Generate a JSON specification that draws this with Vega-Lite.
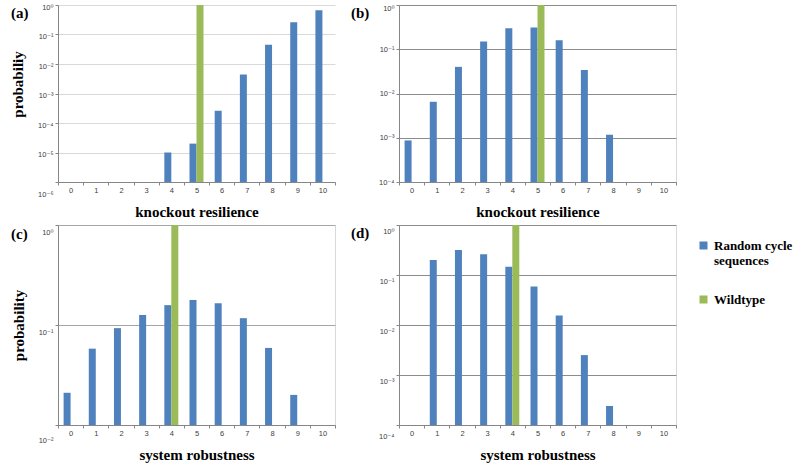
{
  "$schema": "https://vega.github.io/schema/vega-lite/v6.json",
  "padding": {"left": 10, "top": 3, "right": 0, "bottom": 0},
  "background": "white",
  "data": {"values": [
    {"panel": "a", "k": 4, "series": "Random cycle sequences", "p": 0.00001},
    {"panel": "a", "k": 5, "series": "Random cycle sequences", "p": 0.00002},
    {"panel": "a", "k": 6, "series": "Random cycle sequences", "p": 0.00026},
    {"panel": "a", "k": 7, "series": "Random cycle sequences", "p": 0.0044},
    {"panel": "a", "k": 8, "series": "Random cycle sequences", "p": 0.045},
    {"panel": "a", "k": 9, "series": "Random cycle sequences", "p": 0.26},
    {"panel": "a", "k": 10, "series": "Random cycle sequences", "p": 0.67},
    {"panel": "a", "k": 5, "series": "Wildtype", "p": 1},
    {"panel": "b", "k": 0, "series": "Random cycle sequences", "p": 0.00087},
    {"panel": "b", "k": 1, "series": "Random cycle sequences", "p": 0.0065},
    {"panel": "b", "k": 2, "series": "Random cycle sequences", "p": 0.04},
    {"panel": "b", "k": 3, "series": "Random cycle sequences", "p": 0.15},
    {"panel": "b", "k": 4, "series": "Random cycle sequences", "p": 0.3},
    {"panel": "b", "k": 5, "series": "Random cycle sequences", "p": 0.31},
    {"panel": "b", "k": 6, "series": "Random cycle sequences", "p": 0.16},
    {"panel": "b", "k": 7, "series": "Random cycle sequences", "p": 0.034},
    {"panel": "b", "k": 8, "series": "Random cycle sequences", "p": 0.00117},
    {"panel": "b", "k": 5, "series": "Wildtype", "p": 1},
    {"panel": "c", "k": 0, "series": "Random cycle sequences", "p": 0.021},
    {"panel": "c", "k": 1, "series": "Random cycle sequences", "p": 0.058},
    {"panel": "c", "k": 2, "series": "Random cycle sequences", "p": 0.093},
    {"panel": "c", "k": 3, "series": "Random cycle sequences", "p": 0.126},
    {"panel": "c", "k": 4, "series": "Random cycle sequences", "p": 0.158},
    {"panel": "c", "k": 5, "series": "Random cycle sequences", "p": 0.178},
    {"panel": "c", "k": 6, "series": "Random cycle sequences", "p": 0.165},
    {"panel": "c", "k": 7, "series": "Random cycle sequences", "p": 0.117},
    {"panel": "c", "k": 8, "series": "Random cycle sequences", "p": 0.059},
    {"panel": "c", "k": 9, "series": "Random cycle sequences", "p": 0.02},
    {"panel": "c", "k": 4, "series": "Wildtype", "p": 1},
    {"panel": "d", "k": 1, "series": "Random cycle sequences", "p": 0.2},
    {"panel": "d", "k": 2, "series": "Random cycle sequences", "p": 0.316},
    {"panel": "d", "k": 3, "series": "Random cycle sequences", "p": 0.26},
    {"panel": "d", "k": 4, "series": "Random cycle sequences", "p": 0.147},
    {"panel": "d", "k": 5, "series": "Random cycle sequences", "p": 0.059},
    {"panel": "d", "k": 6, "series": "Random cycle sequences", "p": 0.0155},
    {"panel": "d", "k": 7, "series": "Random cycle sequences", "p": 0.0025},
    {"panel": "d", "k": 8, "series": "Random cycle sequences", "p": 0.00024},
    {"panel": "d", "k": 4, "series": "Wildtype", "p": 1}
  ]},
  "columns": 2,
  "bounds": "flush",
  "spacing": {"row": 43, "column": 64},
  "concat": [
    {
      "width": 277, "height": 177,
      "view": {"stroke": null},
      "title": {"text": "(a)", "anchor": "start", "frame": "group", "orient": "top", "offset": -30, "dx": -47, "baseline": "alphabetic"},
      "transform": [{"filter": "datum.panel == 'a'"}],
      "mark": {"type": "bar"},
      "encoding": {
        "x": {"field": "k", "type": "ordinal", "scale": {"domain": [0,1,2,3,4,5,6,7,8,9,10], "paddingInner": 0, "paddingOuter": 0}, "axis": {"title": "knockout resilience"}},
        "xOffset": {"field": "series", "scale": {"domain": ["Random cycle sequences", "Wildtype"], "paddingInner": 0, "paddingOuter": 0.8}},
        "y": {"field": "p", "type": "quantitative", "scale": {"type": "log", "domain": [0.000001, 1], "nice": false},
          "axis": {"title": "probabiliy", "titleY": 79, "values": [1, 0.1, 0.01, 0.001, 0.0001, 0.00001, 0.000001], "gridColor": "#d9d9d9",
            "labelOffset": {"condition": {"test": "datum.value < 0.0000015", "value": 12}, "value": 2}}},
        "y2": {"datum": 0.000001},
        "color": {"field": "series", "type": "nominal", "scale": {"domain": ["Random cycle sequences", "Wildtype"], "range": ["#4F81BD", "#9BBB59"]},
          "legend": {"title": null, "labelExpr": "datum.label == 'Random cycle sequences' ? ['Random cycle', 'sequences'] : datum.label"}}
      }
    },
    {
      "width": 277, "height": 177,
      "view": {"stroke": "#d9d9d9"},
      "title": {"text": "(b)", "anchor": "start", "frame": "group", "orient": "top", "offset": -29, "dx": -48, "baseline": "alphabetic"},
      "transform": [{"filter": "datum.panel == 'b'"}],
      "mark": {"type": "bar"},
      "encoding": {
        "x": {"field": "k", "type": "ordinal", "scale": {"domain": [0,1,2,3,4,5,6,7,8,9,10], "paddingInner": 0, "paddingOuter": 0}, "axis": {"title": "knockout resilience"}},
        "xOffset": {"field": "series", "scale": {"domain": ["Random cycle sequences", "Wildtype"], "paddingInner": 0, "paddingOuter": 0.8}},
        "y": {"field": "p", "type": "quantitative", "scale": {"type": "log", "domain": [0.0001, 1], "nice": false},
          "axis": {"title": null, "values": [1, 0.1, 0.01, 0.001, 0.0001], "gridColor": "#8c8c8c",
            "labelOffset": {"condition": {"test": "datum.value > 0.5", "value": 3}, "value": 0}}},
        "y2": {"datum": 0.0001},
        "color": {"field": "series", "type": "nominal", "scale": {"domain": ["Random cycle sequences", "Wildtype"], "range": ["#4F81BD", "#9BBB59"]},
          "legend": {"title": null, "labelExpr": "datum.label == 'Random cycle sequences' ? ['Random cycle', 'sequences'] : datum.label"}}
      }
    },
    {
      "width": 277, "height": 200,
      "view": {"stroke": "#d9d9d9"},
      "title": {"text": "(c)", "anchor": "start", "frame": "group", "orient": "top", "offset": -29, "dx": -47, "baseline": "alphabetic"},
      "transform": [{"filter": "datum.panel == 'c'"}],
      "mark": {"type": "bar"},
      "encoding": {
        "x": {"field": "k", "type": "ordinal", "scale": {"domain": [0,1,2,3,4,5,6,7,8,9,10], "paddingInner": 0, "paddingOuter": 0}, "axis": {"title": "system robustness"}},
        "xOffset": {"field": "series", "scale": {"domain": ["Random cycle sequences", "Wildtype"], "paddingInner": 0, "paddingOuter": 0.8}},
        "y": {"field": "p", "type": "quantitative", "scale": {"type": "log", "domain": [0.01, 1], "nice": false},
          "axis": {"title": "probability", "values": [1, 0.1, 0.01], "gridColor": "#a6a6a6",
            "labelOffset": {"condition": {"test": "datum.value < 0.015", "value": 15}, "value": 7}}},
        "y2": {"datum": 0.01},
        "color": {"field": "series", "type": "nominal", "scale": {"domain": ["Random cycle sequences", "Wildtype"], "range": ["#4F81BD", "#9BBB59"]},
          "legend": {"title": null, "labelExpr": "datum.label == 'Random cycle sequences' ? ['Random cycle', 'sequences'] : datum.label"}}
      }
    },
    {
      "width": 277, "height": 200,
      "view": {"stroke": "#d9d9d9"},
      "title": {"text": "(d)", "anchor": "start", "frame": "group", "orient": "top", "offset": -28, "dx": -48, "baseline": "alphabetic"},
      "transform": [{"filter": "datum.panel == 'd'"}],
      "mark": {"type": "bar"},
      "encoding": {
        "x": {"field": "k", "type": "ordinal", "scale": {"domain": [0,1,2,3,4,5,6,7,8,9,10], "paddingInner": 0, "paddingOuter": 0}, "axis": {"title": "system robustness"}},
        "xOffset": {"field": "series", "scale": {"domain": ["Random cycle sequences", "Wildtype"], "paddingInner": 0, "paddingOuter": 0.8}},
        "y": {"field": "p", "type": "quantitative", "scale": {"type": "log", "domain": [0.0001, 1], "nice": false},
          "axis": {"title": null, "values": [1, 0.1, 0.01, 0.001, 0.0001], "gridColor": "#8c8c8c",
            "labelOffset": {"condition": {"test": "datum.value < 0.00015", "value": 11}, "value": 6}}},
        "y2": {"datum": 0.0001},
        "color": {"field": "series", "type": "nominal", "scale": {"domain": ["Random cycle sequences", "Wildtype"], "range": ["#4F81BD", "#9BBB59"]},
          "legend": {"title": null, "labelExpr": "datum.label == 'Random cycle sequences' ? ['Random cycle', 'sequences'] : datum.label"}}
      }
    }
  ],
  "config": {
    "font": "Liberation Serif",
    "title": {"font": "Liberation Serif", "fontSize": 15, "fontWeight": "bold", "color": "black"},
    "axis": {
      "labelFont": "Liberation Sans, DejaVu Sans", "labelFontSize": 7.5, "labelColor": "#404040",
      "titleFont": "Liberation Serif", "titleFontSize": 15, "titleFontWeight": "bold", "titleColor": "black",
      "domainColor": "#868686", "tickColor": "#868686", "tickSize": 3, "labelPadding": 2
    },
    "axisX": {"grid": false, "labelAngle": 0, "tickBand": "extent", "labelPadding": 1, "titlePadding": 11},
    "axisY": {"grid": true, "gridWidth": 1, "titlePadding": 12,
      "labelExpr": "'10' + (datum.value >= 0.999 ? '⁰' : '⁻' + ['⁰','¹','²','³','⁴','⁵','⁶'][round(-log(datum.value)/LN10)])"},
    "legend": {
      "orient": "none", "legendX": 639, "legendY": 234,
      "symbolType": "square", "symbolSize": 64, "symbolStrokeWidth": 0,
      "labelFont": "Liberation Serif", "labelFontSize": 13, "labelFontWeight": "bold", "labelColor": "black",
      "labelLimit": 200, "rowPadding": 25, "labelOffset": 4
    }
  }
}
